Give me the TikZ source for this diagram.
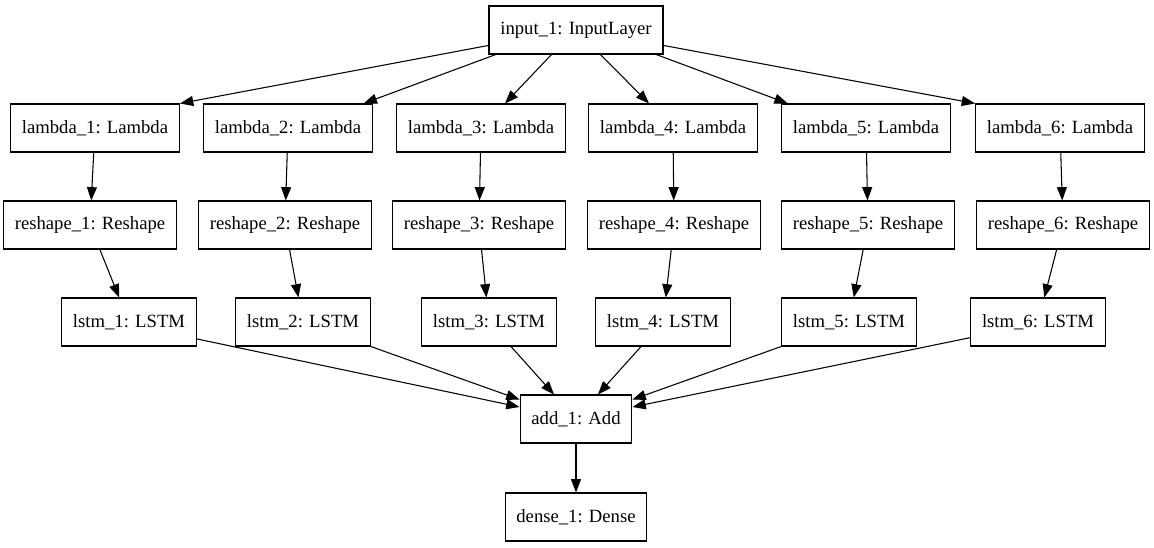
\documentclass[tikz,border=0pt]{standalone}
\usepackage{fontspec}
\setmainfont{Liberation Serif}
\newfontfamily\layerfont{Liberation Serif}
\usetikzlibrary{arrows.meta}
\begin{document}
\begin{tikzpicture}[x=0.75pt,y=-0.75pt,
	layer/.style={draw,line width=0.8pt,rectangle,minimum height=36pt,inner xsep=8.5pt,font=\layerfont\fontsize{14pt}{16pt}\selectfont},
	arr/.style={-{Triangle[length=10pt,width=7.5pt]},line width=0.8pt}]
	\useasboundingbox (0,0) rectangle (1154,547);
	\node[layer] (input1) at (576,30) {input\_1: InputLayer};
	% one column per branch
	\foreach \i/\xa/\xb/\xc in {1/95/90/129,2/288/285/303,3/481/479/489,4/673/674/663,5/866/868/849,6/1060/1063/1038}{
		\node[layer] (lambda\i) at (\xa,128) {lambda\_\i: Lambda};
		\node[layer] (reshape\i) at (\xb,225) {reshape\_\i: Reshape};
		\node[layer] (lstm\i) at (\xc,322) {lstm\_\i: LSTM};
		\draw[arr] (lambda\i) -- (reshape\i);
		\draw[arr] (reshape\i) -- (lstm\i);
	}
	\draw[arr] (input1.190) -- (lambda1.north east);
	\draw[arr] (input1.197) -- ([xshift=-7pt]lambda2.north east);
	\draw[arr] (input1.225) -- ([xshift=18pt]lambda3.north);
	\draw[arr] (input1.315) -- ([xshift=-18pt]lambda4.north);
	\draw[arr] (input1.343) -- ([xshift=5pt]lambda5.north west);
	\draw[arr] (input1.350) -- (lambda6.north west);
	
	\node[layer] (add1) at (576,419) {add\_1: Add};
	\node[layer] (dense1) at (576,517) {dense\_1: Dense};
	\draw[arr] (lstm1.-14) -- (add1.168);
	\draw[arr] (lstm2.south east) -- (add1.161);
	\draw[arr] (lstm3) -- (add1);
	\draw[arr] (lstm4) -- (add1);
	\draw[arr] (lstm5.south west) -- (add1.19);
	\draw[arr] (lstm6.193) -- (add1.12);
	\draw[arr] (add1) -- (dense1);
\end{tikzpicture}
\end{document}
